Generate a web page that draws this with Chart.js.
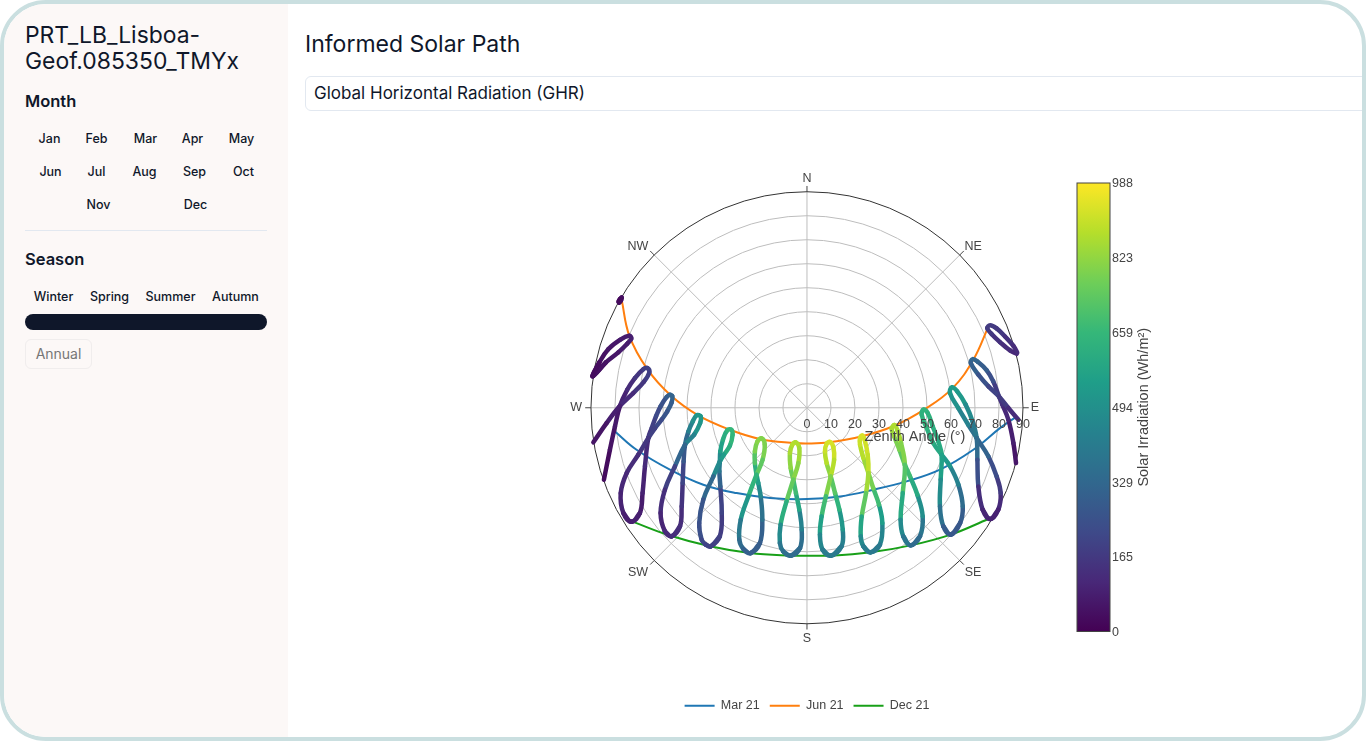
<!DOCTYPE html>
<html>
<head>
<meta charset="utf-8">
<style>
  html, body { margin: 0; padding: 0; width: 1366px; height: 741px; overflow: hidden; background: #fff; font-family: Inter, sans-serif; color: #0f172a; }
  #frame { position: absolute; left: 0; top: 0; width: 1366px; height: 741px; box-sizing: border-box; border: 4px solid #cadfe0; border-radius: 46px; overflow: hidden; background: #fff; }
  #side { position: absolute; left: -4px; top: -4px; width: 288px; height: 741px; background: #fcf8f7; }
  .abs { position: absolute; white-space: nowrap; }
  .btn { font-size: 12.5px; font-weight: 500; transform: translate(-50%, -50%); margin-left: 0.5px; }
  #name { left: 25px; top: 22px; font-size: 22.9px; line-height: 26px; white-space: normal; width: 240px; }
  .head { left: 25px; font-size: 16.5px; font-weight: 600; transform: translateY(-50%); }
  #rule { left: 25px; top: 230px; width: 242px; height: 1px; background: #e2e8f0; }
  #bar { left: 25px; top: 314px; width: 242px; height: 16px; border-radius: 8px; background: #0f172a; }
  #annual { left: 25px; top: 339px; width: 67px; height: 30px; box-sizing: border-box; border: 1px solid #f0eded; border-radius: 6px; font-size: 14px; color: #767676; text-align: center; line-height: 28px; }
  #title { left: 301px; top: 26px; font-size: 23px; line-height: 28px; }
  #select { left: 301px; top: 72px; width: 1080px; height: 35px; box-sizing: border-box; border: 1px solid #e2e8f0; border-radius: 6px; padding-left: 8px; font-size: 17px; line-height: 33px; }
  canvas { position: absolute; left: 284px; top: 126px; }
</style>
<script src="https://cdn.jsdelivr.net/npm/chart.js@4"></script>
</head>
<body>
<div id="frame">
  <div id="side">
    <div class="abs" id="name">PRT_LB_Lisboa-Geof.085350_TMYx</div>
    <div class="abs head" style="top:101px">Month</div>
    <div class="abs btn" style="left:49px;top:138px">Jan</div>
    <div class="abs btn" style="left:96px;top:138px">Feb</div>
    <div class="abs btn" style="left:145px;top:138px">Mar</div>
    <div class="abs btn" style="left:192px;top:138px">Apr</div>
    <div class="abs btn" style="left:241px;top:138px">May</div>
    <div class="abs btn" style="left:50px;top:171px">Jun</div>
    <div class="abs btn" style="left:96px;top:171px">Jul</div>
    <div class="abs btn" style="left:144px;top:171px">Aug</div>
    <div class="abs btn" style="left:194px;top:171px">Sep</div>
    <div class="abs btn" style="left:243px;top:171px">Oct</div>
    <div class="abs btn" style="left:98px;top:204px">Nov</div>
    <div class="abs btn" style="left:195px;top:204px">Dec</div>
    <div class="abs" id="rule"></div>
    <div class="abs head" style="top:259px">Season</div>
    <div class="abs btn" style="left:53px;top:296px">Winter</div>
    <div class="abs btn" style="left:109px;top:296px">Spring</div>
    <div class="abs btn" style="left:170px;top:296px">Summer</div>
    <div class="abs btn" style="left:235px;top:296px">Autumn</div>
    <div class="abs" id="bar"></div>
    <div class="abs" id="annual">Annual</div>
  </div>
  <div class="abs" id="title">Informed Solar Path</div>
  <div class="abs" id="select">Global Horizontal Radiation (GHR)</div>
  <canvas id="graph" width="1038" height="600"></canvas>
</div>
<script>
// sun positions, as east/north components of the zenith angle (degrees)
const marEast = [-80, -71, -57.1, -43.2, -29.3, -15.4, 0, 13.8, 27.6, 41.5, 55.4, 69.3, 80.4, 87.4];
const marNorth = [-9.9, -17.5, -25.8, -32.1, -35.6, -37.6, -38.1, -37, -34.2, -30.7, -25.8, -17.5, -8.5, -3.6];
const junEast = [-77.2, -74, -66.5, -56.7, -45.3, -32.1, -19.3, -4.9, 0, 9.3, 22.9, 36.4, 48.8, 60.7, 69.3, 75.6];
const junNorth = [45, 30, 16.1, 5.1, -3.2, -9.2, -13.1, -14.7, -14.9, -14.4, -11.9, -7.5, -0.8, 8.2, 20, 33.9];
const decEast = [-72.4, -57.1, -40.4, -23.8, -6.8, 0, 9.9, 26.5, 43.2, 59.9, 75.6];
const decNorth = [-47.6, -53.3, -57.8, -60.6, -61.7, -61.7, -61.7, -60.3, -57.4, -52.9, -46.4];

// one analemma per hour, west to east, with its irradiation in Wh/m2
const h05East = [-78.5, -77.9, -77.2, -77.5, -78.2, -78.5];
const h05North = [44.2, 45.3, 46, 44.7, 43.9, 44.2];
const h05Ghi = [25, 30, 35, 30, 25, 25];
const h06East = [-89.3, -86.5, -82.8, -77.9, -74, -73.2, -74.9, -78.6, -83.8, -89.3];
const h06North = [13.1, 18.9, 24.4, 28.3, 30, 28.8, 26.7, 23.1, 18.9, 13.1];
const h06Ghi = [30, 45, 60, 70, 80, 85, 75, 60, 45, 30];
const h07East = [-84.6, -82.1, -80, -77.9, -74.9, -71.7, -68.2, -66.4, -65.7, -67.9, -72.4, -77.9, -83.5, -89];
const h07North = [-30, -17.5, -7.8, 0.8, 7.5, 12.4, 16.1, 16.5, 14.7, 10.9, 6.1, 0.8, -6.4, -14.4];
const h07Ghi = [30, 50, 70, 95, 125, 155, 185, 190, 185, 155, 120, 85, 55, 30];
const h08East = [-73.1, -69.6, -68.5, -67.5, -66.1, -64.7, -62.9, -61, -58.5, -57.1, -56.1, -56.4, -58.2, -60.6, -63.3, -66.1, -70.3, -75.1, -77.6, -76.5, -73.1];
const h08North = [-47.6, -43.9, -35.6, -24.4, -12.6, -8.5, -3.6, 0.6, 4.4, 5.4, 4.8, 2.2, -1.5, -5, -8.5, -12.6, -19.6, -27.2, -35.6, -43.9, -47.6];
const h08Ghi = [85, 75, 95, 120, 155, 190, 220, 250, 290, 315, 310, 290, 260, 225, 190, 155, 125, 110, 95, 80, 85];
const h09East = [-56.4, -52.9, -52.2, -51.8, -51.4, -50.8, -49.4, -47.6, -45.9, -44.3, -44.5, -47, -50.8, -55, -59.2, -61, -59.2, -56.4];
const h09North = [-53.6, -49.4, -41.1, -31.4, -22.4, -15.4, -9.9, -5.7, -3.1, -3.6, -6.4, -11.2, -15.4, -24.4, -34.2, -43.9, -51.5, -53.6];
const h09Ghi = [130, 125, 150, 205, 270, 330, 430, 490, 520, 525, 510, 440, 320, 190, 130, 105, 115, 130];
const h10East = [-40.1, -36.3, -35.5, -36.1, -36.5, -36.3, -36.1, -35, -33.2, -31.5, -31, -32.1, -34.6, -36.3, -39, -43.2, -44.9, -43.9, -42.2, -40.1];
const h10North = [-57.8, -53.6, -43.9, -32.8, -26.5, -22.4, -18.2, -13.3, -9.4, -9.2, -11.3, -15.8, -19.6, -22.4, -28.6, -38.3, -48.1, -55, -57.1, -57.8];
const h10Ghi = [190, 175, 200, 310, 400, 470, 560, 610, 650, 660, 650, 610, 540, 470, 330, 260, 240, 210, 195, 190];
const h11East = [-23.5, -19.6, -18.6, -19.3, -20.3, -21, -21.7, -21.7, -20.7, -18.9, -17.6, -18.5, -21, -24.4, -27.6, -28.2, -26.5, -23.5];
const h11North = [-60.6, -56.4, -46.7, -36.9, -31.4, -27.9, -23.1, -18.2, -14.2, -12.8, -15.3, -21.7, -27.9, -36.9, -46.7, -55, -58.9, -60.6];
const h11Ghi = [290, 300, 370, 470, 560, 620, 720, 790, 810, 800, 790, 740, 640, 520, 400, 340, 300, 290];
const h12East = [-6.8, -2.9, -2.2, -3.2, -4.6, -5.7, -6.8, -7.1, -6.1, -4.7, -3.2, -3.6, -5.7, -8.5, -11, -11.3, -9.9, -6.8];
const h12North = [-61.7, -58.5, -50.8, -42.5, -35.6, -30, -25.1, -18.9, -15.4, -14.4, -16.8, -23.1, -30, -39, -48.8, -56.4, -59.9, -61.7];
const h12Ghi = [340, 360, 440, 590, 680, 760, 820, 860, 880, 870, 850, 810, 750, 620, 470, 390, 350, 340];
const h13East = [9.9, 14.4, 14.9, 13.5, 11.7, 9.9, 8.2, 7.5, 8.2, 9.6, 11, 11.3, 9.9, 7.9, 6.1, 5.4, 6.5, 9.9];
const h13North = [-61.7, -57.8, -50.8, -42.5, -35.6, -28.6, -23.1, -18.2, -15, -14.3, -16.5, -21.7, -28.6, -36.9, -45.3, -52.9, -59.2, -61.7];
const h13Ghi = [400, 430, 520, 640, 730, 820, 880, 910, 925, 930, 915, 880, 800, 680, 560, 460, 410, 400];
const h14East = [26.5, 30.4, 31.4, 30, 27.6, 25.6, 23.5, 22.1, 22.1, 23.1, 24, 25.3, 25.6, 24.6, 22.8, 22.4, 23.5, 26.5];
const h14North = [-60.3, -57.1, -48.1, -40.4, -33.5, -27.2, -20.9, -15.4, -12.6, -11.5, -13.3, -19.6, -27.2, -35.6, -45.4, -53.6, -57.8, -60.3];
const h14Ghi = [400, 450, 550, 680, 780, 840, 880, 910, 930, 930, 920, 900, 850, 740, 580, 470, 420, 400];
const h15East = [43.2, 47.1, 48.2, 46, 42.9, 40.8, 38.5, 36.3, 35.3, 36.4, 37.6, 39.2, 40.8, 39.9, 39, 40.1, 43.2];
const h15North = [-57.4, -53.6, -45.3, -36.3, -28.6, -23.8, -17.5, -11.9, -8.8, -7.2, -9.2, -14.7, -23.8, -35.6, -46.7, -53.6, -57.4];
const h15Ghi = [340, 390, 490, 600, 680, 730, 790, 840, 860, 870, 860, 800, 720, 600, 470, 390, 340];
const h16East = [59.9, 63.8, 64.9, 63.1, 59.6, 56.1, 52.6, 49.9, 47.8, 48.5, 50.3, 52.4, 54.7, 56.1, 55.7, 55.4, 56.8, 59.9];
const h16North = [-52.9, -48.1, -41.1, -32.1, -24.4, -19.6, -14.7, -8.5, -2.9, -0.8, -2.2, -7.8, -14, -19.6, -30, -41.1, -49.4, -52.9];
const h16Ghi = [270, 290, 350, 440, 530, 590, 620, 640, 630, 640, 630, 620, 600, 560, 480, 370, 290, 270];
const h17East = [76.3, 79.7, 80.7, 79, 75.6, 70.7, 67.2, 63, 59.6, 60.3, 62.6, 66.1, 69, 70.7, 71, 71.4, 73.2, 76.3];
const h17North = [-46.4, -42.5, -35.6, -28.6, -20.3, -12.6, -7.1, -0.1, 6.1, 8.5, 6.8, 1.3, -5.7, -12.6, -21.7, -32.8, -42.5, -46.4];
const h17Ghi = [90, 120, 170, 230, 310, 370, 440, 500, 535, 540, 530, 470, 400, 340, 240, 130, 100, 90];
const h18East = [87.1, 86, 83.9, 81.4, 80, 77.6, 74.9, 71.1, 69, 68.3, 71.4, 75.6, 80, 83.9, 88.1];
const h18North = [-23.1, -14.7, -5, 1.3, 4.7, 11, 15.6, 19.2, 20.3, 18.6, 13.8, 8.9, 4.7, -0.1, -5];
const h18Ghi = [60, 85, 110, 140, 175, 240, 290, 320, 320, 300, 250, 200, 170, 120, 75];
const h19East = [87.4, 84.6, 80.4, 76.9, 75.1, 76.3, 79, 82.5, 86, 87.6];
const h19North = [22.5, 23.9, 27.4, 30.8, 33.2, 34.4, 33.1, 29.7, 25.8, 23];
const h19Ghi = [110, 125, 140, 160, 170, 170, 160, 140, 125, 110];

const colorbarTicks = [0, 165, 329, 494, 659, 823, 988];
const zenithRings = [10, 20, 30, 40, 50, 60, 70, 80];
const zenithLabels = [0, 10, 20, 30, 40, 50, 60, 70, 80, 90];
const spokeBearings = [0, 45, 90, 135, 180, 225, 270, 315];
const compassLabels = ['N', 'NE', 'E', 'SE', 'S', 'SW', 'W', 'NW'];
const compassEast = [0, 69.2, 95, 69.2, 0, -70.4, -96.2, -70.4];
const compassNorth = [95.4, 67.4, 0.2, -68.6, -96.3, -68.6, 0.2, 67.4];

const viridisStops = ['#440154', '#482878', '#3e4a89', '#31688e', '#26828e', '#1f9e89', '#35b779', '#6ece58', '#b5de2b', '#fde725'];

function viridis(v) {
  const t = Math.max(0, Math.min(1, v / 988)) * (viridisStops.length - 1);
  const i = Math.min(Math.floor(t), viridisStops.length - 2);
  const rgb = hex => [1, 3, 5].map(k => parseInt(hex.substr(k, 2), 16));
  const a = rgb(viridisStops[i]), b = rgb(viridisStops[i + 1]);
  return 'rgb(' + a.map((c, k) => Math.round(c + (b[k] - c) * (t - i))).join(',') + ')';
}

const loops = [
  [h05East, h05North, h05Ghi], [h06East, h06North, h06Ghi], [h07East, h07North, h07Ghi],
  [h08East, h08North, h08Ghi], [h09East, h09North, h09Ghi], [h10East, h10North, h10Ghi],
  [h11East, h11North, h11Ghi], [h12East, h12North, h12Ghi], [h13East, h13North, h13Ghi],
  [h14East, h14North, h14Ghi], [h15East, h15North, h15Ghi], [h16East, h16North, h16Ghi],
  [h17East, h17North, h17Ghi], [h18East, h18North, h18Ghi], [h19East, h19North, h19Ghi]
];

// closed loops wrap one point at each end so the spline has no corner at the join
function loopPoints(east, north, ghi) {
  const pts = east.map((x, i) => ({ x: x, y: north[i], v: ghi[i] }));
  const n = pts.length - 1;
  if (pts[0].x === pts[n].x && pts[0].y === pts[n].y) {
    return [pts[n - 1]].concat(pts, [pts[1]]);
  }
  return pts;
}

const loopSets = loops.map(([east, north, ghi]) => ({
  data: loopPoints(east, north, ghi),
  showLine: true,
  tension: 0.4,
  borderWidth: 4.5,
  borderCapStyle: 'round',
  pointRadius: 0,
  order: 1,
  segment: { borderColor: ctx => viridis(ctx.p0.raw.v) }
}));

function dayLine(label, east, north, color) {
  return {
    label: label,
    data: east.map((x, i) => ({ x: x, y: north[i] })),
    showLine: true,
    tension: 0.4,
    borderColor: color,
    backgroundColor: color,
    borderWidth: 2,
    pointRadius: 0,
    order: 2
  };
}

const polarGrid = {
  id: 'polarGrid',
  beforeDatasetsDraw(chart) {
    const { ctx, scales: { x, y, cb }, chartArea } = chart;
    const cx = x.getPixelForValue(0), cy = y.getPixelForValue(0);
    const px = r => x.getPixelForValue(r) - cx;
    ctx.save();
    ctx.lineWidth = 1;
    ctx.strokeStyle = '#bdbdbd';
    zenithRings.forEach(r => {
      ctx.beginPath();
      ctx.arc(cx, cy, px(r), 0, Math.PI * 2);
      ctx.stroke();
    });
    spokeBearings.forEach(b => {
      const a = b * Math.PI / 180;
      ctx.strokeStyle = '#bdbdbd';
      ctx.beginPath();
      ctx.moveTo(cx, cy);
      ctx.lineTo(cx + px(90) * Math.sin(a), cy - px(90) * Math.cos(a));
      ctx.stroke();
      ctx.strokeStyle = '#444';
      ctx.beginPath();
      ctx.moveTo(cx + px(90) * Math.sin(a), cy - px(90) * Math.cos(a));
      ctx.lineTo(cx + px(92.4) * Math.sin(a), cy - px(92.4) * Math.cos(a));
      ctx.stroke();
    });
    ctx.strokeStyle = '#333';
    ctx.beginPath();
    ctx.arc(cx, cy, px(90), 0, Math.PI * 2);
    ctx.stroke();

    // colorbar sits on the irradiation scale
    const top = cb.getPixelForValue(988), bottom = cb.getPixelForValue(0);
    const left = chartArea.right - 33;
    const grad = ctx.createLinearGradient(0, bottom, 0, top);
    viridisStops.forEach((c, i) => grad.addColorStop(i / (viridisStops.length - 1), c));
    ctx.fillStyle = grad;
    ctx.fillRect(left, top, 33, bottom - top);
    ctx.strokeStyle = '#444';
    ctx.strokeRect(left, top, 33, bottom - top);

    ctx.fillStyle = '#444';
    ctx.font = '12.5px "Liberation Sans"';
    ctx.textAlign = 'center';
    ctx.textBaseline = 'middle';
    compassLabels.forEach((t, i) => {
      ctx.fillText(t, x.getPixelForValue(compassEast[i]), y.getPixelForValue(compassNorth[i]));
    });
    ctx.translate(chartArea.right + 34, cb.getPixelForValue(494));
    ctx.rotate(-Math.PI / 2);
    ctx.font = '14.5px "Liberation Sans"';
    ctx.fillText('Solar Irradiation (Wh/m²)', 0, 0);
    ctx.restore();
  },
  afterDatasetsDraw(chart) {
    const { ctx, scales: { x, y } } = chart;
    ctx.save();
    ctx.fillStyle = '#444';
    ctx.font = '12.5px "Liberation Sans"';
    ctx.textAlign = 'center';
    ctx.textBaseline = 'middle';
    zenithLabels.forEach(r => ctx.fillText(String(r), x.getPixelForValue(r), y.getPixelForValue(-6.8)));
    ctx.font = '14.5px "Liberation Sans"';
    ctx.fillText('Zenith Angle (°)', x.getPixelForValue(45), y.getPixelForValue(-12.1));
    ctx.restore();
  }
};

new Chart(document.getElementById('graph'), {
  type: 'scatter',
  data: {
    datasets: [
      dayLine('Mar 21', marEast, marNorth, '#1f77b4'),
      dayLine('Jun 21', junEast, junNorth, '#ff7f0e'),
      dayLine('Dec 21', decEast, decNorth, '#18a018')
    ].concat(loopSets)
  },
  options: {
    responsive: false,
    animation: false,
    layout: { padding: { top: 53, bottom: 8 } },
    scales: {
      x: {
        min: -102.9, max: 126.25,
        grid: { display: false }, border: { display: false },
        ticks: { display: false },
        afterFit: s => { s.height = 58; }
      },
      y: {
        min: -93.33, max: 93.75,
        grid: { display: false }, border: { display: false },
        ticks: { display: false },
        afterFit: s => { s.width = 272; }
      },
      cb: {
        axis: 'y', position: 'right', min: 0, max: 988,
        grid: { display: false, drawTicks: false }, border: { display: false },
        afterBuildTicks: s => { s.ticks = colorbarTicks.map(v => ({ value: v })); },
        ticks: { color: '#444', padding: 2, labelOffset: 1, font: { family: '"Liberation Sans"', size: 12.5 }, autoSkip: false, maxRotation: 0 },
        afterFit: s => { s.width = 216; }
      }
    },
    plugins: {
      tooltip: { enabled: false },
      legend: {
        position: 'bottom',
        labels: {
          filter: item => !!item.text,
          usePointStyle: true,
          pointStyle: 'line',
          pointStyleWidth: 30,
          color: '#444',
          font: { family: '"Liberation Sans"', size: 12.5 }
        }
      }
    }
  },
  plugins: [polarGrid]
});
</script>
</body>
</html>
